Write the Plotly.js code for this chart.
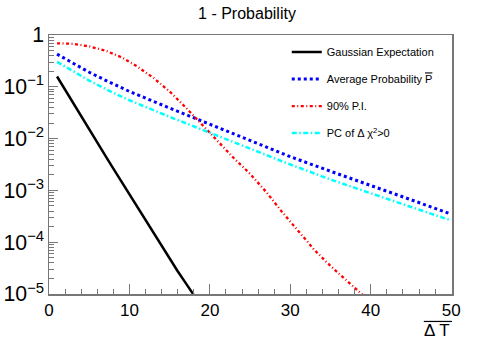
<!DOCTYPE html>
<html>
<head>
<meta charset="utf-8">
<script src="https://cdn.plot.ly/plotly-3.0.1.min.js"></script>
<style>
  body { margin: 0; }
  #prob-plot { width: 494px; height: 355px; }
</style>
</head>
<body>
<div id="prob-plot"></div>
<script>
// values (y is 1 - probability)
const gaussX = [1, 2, 3, 4, 5, 6, 7, 8, 9, 10, 11, 12, 13, 14, 15, 16, 17, 18];
const gaussY = [0.158, 0.0871, 0.0479, 0.0263, 0.0148, 0.00832, 0.00468, 0.00263, 0.00148,
    0.000832, 0.000468, 0.000263, 0.000145, 8.32e-5, 4.79e-5, 2.75e-5, 1.62e-5, 9.55e-6];

const avgX = [1, 2, 3, 5, 7.5, 10, 15, 20, 25, 30, 35, 40, 45, 50];
const avgY = [0.427, 0.349, 0.288, 0.191, 0.123, 0.0813, 0.0389, 0.0191, 0.00912,
    0.00447, 0.00234, 0.00126, 0.000661, 0.000347];

const piX = [1, 3, 5, 7, 9, 11, 13, 15, 17, 19, 21, 23, 25, 27, 29, 31, 33, 35, 37, 39];
const piY = [0.692, 0.676, 0.603, 0.501, 0.372, 0.245, 0.148, 0.0813, 0.0398, 0.0186,
    0.00871, 0.00417, 0.00209, 0.000933, 0.00038, 0.000162, 7.08e-5, 3.47e-5, 1.82e-5, 9.55e-6];

const pcX = [1, 2, 3, 5, 7.5, 10, 15, 20, 25, 30, 35, 40, 45, 50];
const pcY = [0.302, 0.245, 0.204, 0.132, 0.0832, 0.055, 0.0263, 0.0129, 0.00646,
    0.00316, 0.00162, 0.000871, 0.000479, 0.000263];

const seriesNames = [
    'Gaussian Expectation',
    'Average Probability <span style="text-decoration:overline">P</span>',
    '90% P.I.',
    'PC of Δ χ<sup>2</sup>>0'
];

var traceGauss = {
    x: gaussX, y: gaussY, name: seriesNames[0], legendgroup: 'g1',
    type: 'scatter', mode: 'lines',
    line: { color: 'black', width: 2.5 }
};
var traceAvg = {
    x: avgX, y: avgY, name: seriesNames[1], legendgroup: 'g2',
    type: 'scatter', mode: 'lines',
    line: { color: 'blue', width: 3, dash: '3px,3px' }
};
var tracePI = {
    x: piX, y: piY, name: seriesNames[2], legendgroup: 'g3',
    type: 'scatter', mode: 'lines',
    line: { color: 'red', width: 2.3, dash: '3px,2.5px,1px,2.5px' }
};
var tracePC = {
    x: pcX, y: pcY, name: seriesNames[3], legendgroup: 'g4',
    type: 'scatter', mode: 'lines',
    line: { color: 'cyan', width: 2.5, dash: '5px,2.5px,1.5px,2.5px' }
};

var frameColor = '#777';

var layoutProb = {
    width: 494,
    height: 355,
    margin: { l: 49, r: 42, t: 35, b: 61 },
    paper_bgcolor: 'white',
    plot_bgcolor: 'white',
    font: { family: 'Liberation Sans, Arial, sans-serif', color: 'black' },
    title: {
        text: '1 - Probability',
        x: 0.5, xanchor: 'center',
        y: 0.963, yanchor: 'middle',
        font: { size: 16 }
    },
    showlegend: true,
    legend: {
        x: 0.59, xanchor: 'left',
        y: 0.99, yanchor: 'top',
        bgcolor: 'rgba(0,0,0,0)',
        font: { size: 11 },
        traceorder: 'grouped',
        tracegroupgap: 8
    },
    xaxis: {
        range: [0, 50.1],
        dtick: 10, tick0: 0,
        ticks: 'inside', ticklen: 10, tickwidth: 1, tickcolor: frameColor,
        minor: { dtick: 2, ticks: 'inside', ticklen: 5, tickcolor: frameColor },
        showgrid: false, zeroline: false,
        showline: true, linecolor: frameColor, linewidth: 1.5, mirror: true,
        tickfont: { size: 17 }
    },
    yaxis: {
        type: 'log',
        range: [-5, 0],
        dtick: 1,
        exponentformat: 'power',
        ticks: 'inside', ticklen: 9, tickwidth: 1, tickcolor: frameColor,
        minor: { dtick: 'D1', ticks: 'inside', ticklen: 5, tickcolor: frameColor },
        showgrid: false, zeroline: false,
        showline: true, linecolor: frameColor, linewidth: 1.5, mirror: true,
        tickfont: { size: 17 }
    },
    annotations: [{
        text: 'Δ T',
        xref: 'paper', yref: 'paper',
        x: 1, y: -0.14, xanchor: 'right', yanchor: 'middle',
        showarrow: false,
        font: { size: 17 }
    }],
    shapes: [{
        type: 'line', xref: 'paper', yref: 'paper',
        x0: 0.93, x1: 1.0, y0: -0.106, y1: -0.106,
        line: { color: 'black', width: 1.2 }
    }]
};

Plotly.newPlot('prob-plot', [traceGauss, traceAvg, tracePI, tracePC], layoutProb,
    { displayModeBar: false, staticPlot: true });
</script>
</body>
</html>
